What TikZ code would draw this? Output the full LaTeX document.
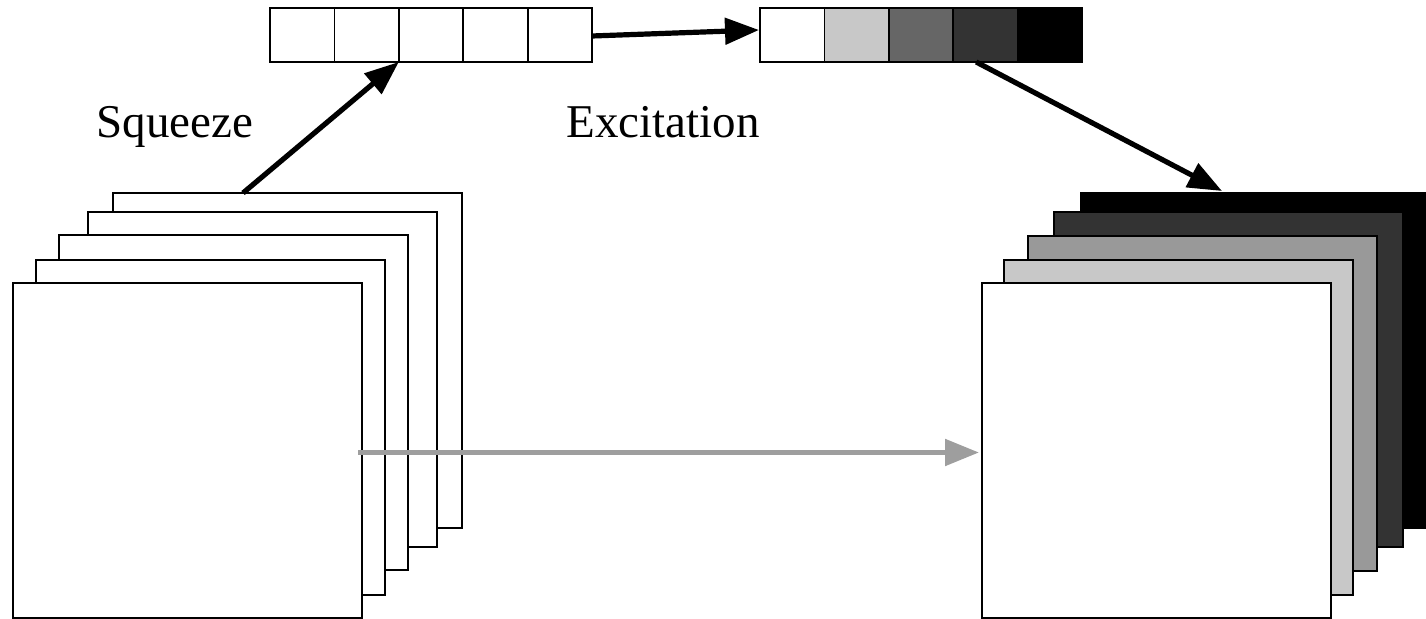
\documentclass[tikz,border=0pt]{standalone}
\usepackage{fontspec}
\setmainfont{Liberation Serif}
\usetikzlibrary{arrows.meta,calc}
\definecolor{lightg}{HTML}{C8C8C8}
\definecolor{midg}{HTML}{999999}
\definecolor{darkg}{HTML}{666666}
\definecolor{deepg}{HTML}{333333}
\definecolor{arrowg}{HTML}{9E9E9E}
\begin{document}
\begin{tikzpicture}[x=0.5pt,y=-0.5pt,
  fmap/.style={draw=black, line width=1pt, rectangle, inner sep=0pt, outer sep=0pt,
    minimum width=174.5pt, minimum height=167.5pt, anchor=north west},
  cell/.style={draw=black, line width=0.9pt, rectangle, inner sep=0pt, outer sep=0pt,
    minimum width=32.2pt, minimum height=27pt, anchor=west},
  arr/.style={line width=2.6pt, -{Triangle[length=17pt,width=13pt]}},
  lbl/.style={font=\fontsize{23.5}{28}\selectfont, inner sep=0pt, anchor=base}]
\useasboundingbox (0,0) rectangle (1426,619);
\clip (0,0) rectangle (1426,619);

% input feature maps, back to front
\node[fmap, fill=white] (l5) at (113,193) {};
\node[fmap, fill=white] (l4) at (88,212) {};
\node[fmap, fill=white] (l3) at (59,235) {};
\node[fmap, fill=white] (l2) at (36,260) {};
\node[fmap, fill=white] (l1) at (13,283) {};

% reweighted feature maps, back to front
\node[fmap, fill=black] (r5) at (1081,193) {};
\node[fmap, fill=deepg] (r4) at (1054,212) {};
\node[fmap, fill=midg]  (r3) at (1028,236) {};
\node[fmap, fill=lightg] (r2) at (1004,260) {};
\node[fmap, fill=white] (r1) at (982,283) {};

% squeezed channel descriptor
\node[cell, fill=white] (lc1) at (270,35) {};
\node[cell, fill=white] (lc2) at (lc1.east) {};
\node[cell, fill=white] (lc3) at (lc2.east) {};
\node[cell, fill=white] (lc4) at (lc3.east) {};
\node[cell, fill=white] (lc5) at (lc4.east) {};

% excitation weights
\node[cell, fill=white]  (rc1) at (760,35) {};
\node[cell, fill=lightg] (rc2) at (rc1.east) {};
\node[cell, fill=darkg]  (rc3) at (rc2.east) {};
\node[cell, fill=deepg]  (rc4) at (rc3.east) {};
\node[cell, fill=black]  (rc5) at (rc4.east) {};

% labels
\node[lbl] (sq) at (175,138) {Squeeze};
\node[lbl] (ex) at (663,138) {Excitation};

% connectors
\draw[arr] ($(l5.north west)+(130,0)$) -- (lc2.south east);
\draw[arr] ($(lc5.east)+(0,1)$) -- ($(rc1.west)+(-1,-5)$);
\draw[arr] ($(rc4.south west)+(23,0)$) -- ($(r5.north west)+(141,-2)$);
\draw[arr, draw=arrowg, fill=arrowg] ($(l1.east)+(-4,2)$) -- ($(r1.west)+(-3,2)$);
\end{tikzpicture}
\end{document}
